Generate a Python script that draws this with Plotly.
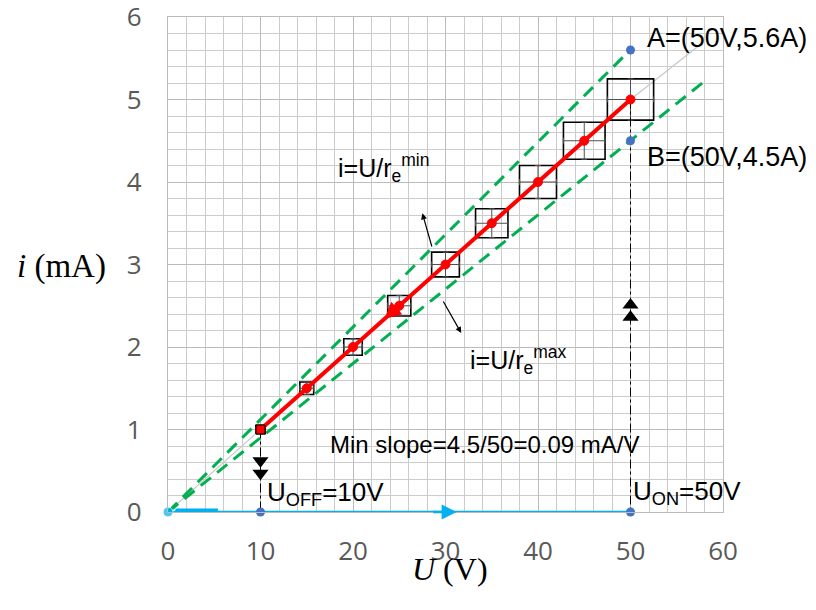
import plotly.graph_objects as go

# ---------------- data ----------------
U_meas = [10, 15, 20, 25, 30, 35, 40, 45, 50]          # V
I_meas = [1.0, 1.5, 2.0, 2.5, 3.0, 3.5, 4.0, 4.5, 5.0]  # mA
err_pct = 5                                            # % uncertainty box

U_upper = [0, 49.6]
I_upper = [0, 5.56]
U_lower = [0, 58.2]
I_lower = [0, 5.24]
U_gray = [0, 10, 50, 57.6]
I_gray = [0, 1.0, 5.0, 5.67]

U_blue = [0, 50]
I_blue = [0, 0]
U_blue_thick = [0.8, 5.4]
I_blue_thick = [0, 0]

U_pts = [10, 50, 50, 50]
I_pts = [0, 0, 5.6, 4.5]

U_off = 10
U_on = 50
I_off_top = 1.0
I_on_top = 5.0
off_arrow_I = [0.62, 0.47]
on_arrow_I = [2.51, 2.36]

x_ticks = [0, 10, 20, 30, 40, 50, 60]
y_ticks = [0, 1, 2, 3, 4, 5, 6]

# ---------------- figure ----------------
fig = go.Figure()

# gray trend line
fig.add_trace(go.Scatter(x=U_gray, y=I_gray, mode="lines",
                         line=dict(color="#c8c8c8", width=1.2), hoverinfo="skip"))

# green bounding lines
fig.add_trace(go.Scatter(x=U_upper, y=I_upper, mode="lines",
                         line=dict(color="#00B050", width=3, dash="13px,8px"), cliponaxis=False))
fig.add_trace(go.Scatter(x=U_lower, y=I_lower, mode="lines",
                         line=dict(color="#00B050", width=3, dash="13px,8px"), cliponaxis=False))

# uncertainty boxes
bx, by = [], []
for u, i in zip(U_meas, I_meas):
    du = u * err_pct / 100
    di = i * err_pct / 100
    bx += [u - du, u + du, u + du, u - du, u - du, None]
    by += [i - di, i - di, i + di, i + di, i - di, None]
fig.add_trace(go.Scatter(x=bx, y=by, mode="lines",
                         line=dict(color="black", width=1.6), hoverinfo="skip"))

# error bars (crosses)
fig.add_trace(go.Scatter(x=U_meas, y=I_meas, mode="markers",
                         marker=dict(size=1, color="rgba(0,0,0,0)"),
                         error_x=dict(type="percent", value=err_pct, color="#505050", thickness=1, width=3),
                         error_y=dict(type="percent", value=err_pct, color="#505050", thickness=1, width=3)))

# dashed verticals
fig.add_trace(go.Scatter(x=[U_off, U_off], y=[I_off_top, 0], mode="lines",
                         line=dict(color="black", width=1, dash="dashdot"), cliponaxis=False))
fig.add_trace(go.Scatter(x=[U_on, U_on], y=[I_on_top, 0], mode="lines",
                         line=dict(color="black", width=1, dash="dashdot"), cliponaxis=False))

# red measured line
sym = ["square"] + ["circle"] * (len(U_meas) - 1)
fig.add_trace(go.Scatter(x=U_meas, y=I_meas, mode="lines+markers",
                         line=dict(color="#FF0000", width=4),
                         marker=dict(color="#FF0000", size=9, symbol=sym,
                                     line=dict(color=["black"] + ["#FF0000"] * (len(U_meas) - 1), width=1))))

# arrowheads on dashed verticals
fig.add_trace(go.Scatter(x=[U_off] * len(off_arrow_I), y=off_arrow_I, mode="markers",
                         marker=dict(symbol="triangle-down", size=14, color="black")))
fig.add_trace(go.Scatter(x=[U_on] * len(on_arrow_I), y=on_arrow_I, mode="markers",
                         marker=dict(symbol="triangle-up", size=14, color="black")))

# blue path along axis
fig.add_trace(go.Scatter(x=U_blue, y=I_blue, mode="lines+markers",
                         line=dict(color="#00B0F0", width=2.5),
                         marker=dict(color="#00B0F0", size=[10, 0]), cliponaxis=False))
fig.add_trace(go.Scatter(x=U_blue_thick, y=I_blue_thick, mode="lines",
                         line=dict(color="#00B0F0", width=7), cliponaxis=False))

# dark blue points
fig.add_trace(go.Scatter(x=U_pts, y=I_pts, mode="markers",
                         marker=dict(color="#4472C4", size=9), cliponaxis=False))

def tfont(size):
    return dict(family="Liberation Sans, Arial", size=size, color="black")

ann = [
    dict(x=51.6, y=5.75, text="A=(50V,5.6A)", font=tfont(27)),
    dict(x=51.6, y=4.30, text="B=(50V,4.5A)", font=tfont(27)),
    dict(x=18.2, y=4.17, text="i=U/r<sub>e</sub><sup>min</sup>", font=tfont(25)),
    dict(x=32.4, y=1.84, text="i=U/r<sub>e</sub><sup>max</sup>", font=tfont(25)),
    dict(x=17.3, y=0.82, text="Min slope=4.5/50=0.09 mA/V", font=tfont(24)),
    dict(x=10.45, y=0.22, text="U<sub>OFF</sub>=10V", font=tfont(26)),
    dict(x=50.05, y=0.24, text="U<sub>ON</sub>=50V", font=tfont(26)),
]
annotations = []
for a in ann:
    d = dict(xref="x", yref="y", xanchor="left", yanchor="middle", showarrow=False)
    d.update(a)
    annotations.append(d)

# thin arrows for labels
annotations.append(dict(xref="x", yref="y", axref="x", ayref="y", x=27.5, y=3.62, ax=28.57, ay=3.20,
                        showarrow=True, arrowhead=2, arrowsize=1, arrowwidth=1.2, arrowcolor="black", text=""))
annotations.append(dict(xref="x", yref="y", axref="x", ayref="y", x=31.7, y=2.17, ax=29.67, ay=2.57,
                        showarrow=True, arrowhead=2, arrowsize=1, arrowwidth=1.2, arrowcolor="black", text=""))
# direction arrows
annotations.append(dict(xref="x", yref="y", axref="x", ayref="y", x=23.4, y=2.34, ax=25.5, ay=2.55,
                        showarrow=True, arrowhead=2, arrowsize=1.1, arrowwidth=3, arrowcolor="#FF0000", text=""))
annotations.append(dict(xref="x", yref="y", axref="x", ayref="y", x=31.2, y=0, ax=28.5, ay=0,
                        showarrow=True, arrowhead=2, arrowsize=1.2, arrowwidth=2.5, arrowcolor="#00B0F0", text=""))

# axis titles
annotations.append(dict(xref="paper", yref="paper", x=(61 - 168) / 555, y=(512 - 266) / 495,
                        xanchor="center", yanchor="middle", showarrow=False,
                        text="<i>i</i> (mA)", font=dict(family="Liberation Serif, Times New Roman", size=33, color="black")))
annotations.append(dict(xref="paper", yref="paper", x=(450 - 168) / 555, y=(512 - 569) / 495,
                        xanchor="center", yanchor="middle", showarrow=False,
                        text="<i>U</i> (V)", font=dict(family="Liberation Serif, Times New Roman", size=32, color="black")))

axis_common = dict(showgrid=True, gridcolor="#bbbbbb", gridwidth=1.3, zeroline=False,
                   showline=True, linecolor="#bbbbbb", linewidth=1.3, mirror=True,
                   tickfont=dict(family="Open Sans", size=26, color="#595959"),
                   ticks="outside", tickcolor="rgba(0,0,0,0)", fixedrange=True, automargin=False,
                   ticklabeloverflow="allow")

fig.update_layout(
    template="none",
    width=808, height=602,
    margin=dict(l=160, r=93, t=9, b=98, pad=0),
    plot_bgcolor="white", paper_bgcolor="white",
    showlegend=False,
    annotations=annotations,
    xaxis=dict(range=[0, 60], tickvals=x_ticks, ticklen=16,
               minor=dict(dtick=2, showgrid=True, gridcolor="#cccccc", gridwidth=1), **axis_common),
    yaxis=dict(range=[0, 6], tickvals=y_ticks, ticklen=20,
               minor=dict(dtick=0.2, showgrid=True, gridcolor="#cccccc", gridwidth=1), **axis_common),
)

fig.write_html("out.html")
